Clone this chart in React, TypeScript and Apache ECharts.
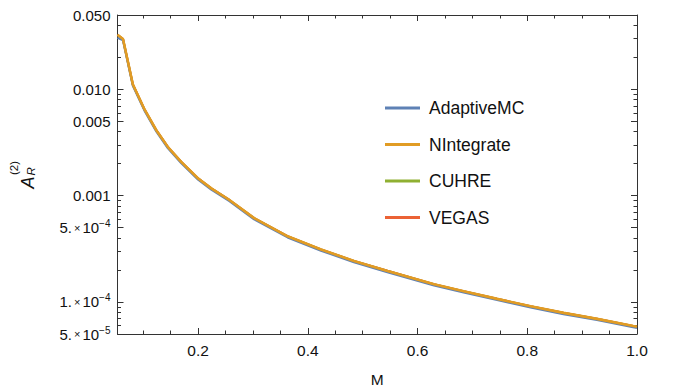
import React, { useEffect, useRef } from "react";
import * as echarts from "echarts";

const mValues = [0.053, 0.063, 0.081, 0.102, 0.124, 0.145, 0.169, 0.2, 0.224, 0.257, 0.302, 0.363, 0.424, 0.484, 0.545, 0.63, 0.684, 0.745, 0.806, 0.866, 0.927, 0.993, 1.0];
const nintegrate = [0.0326, 0.0297, 0.0111, 0.0065, 0.0041, 0.00286, 0.00208, 0.00145, 0.00117, 0.00091, 0.000615, 0.000415, 0.000312, 0.000243, 0.000196, 0.000147, 0.000126, 0.000107, 0.0000912, 0.000079, 0.0000694, 0.0000594, 0.0000585];
const adaptiveMC = [0.0305, 0.029, 0.0108, 0.00634, 0.004, 0.00279, 0.00203, 0.001414, 0.00114, 0.000887, 0.0006, 0.000405, 0.000304, 0.000237, 0.000191, 0.000143, 0.000123, 0.0001043, 0.0000889, 0.000077, 0.0000677, 0.0000579, 0.000057];
const cuhre = [0.0326, 0.0297, 0.0111, 0.0065, 0.0041, 0.00286, 0.00208, 0.00145, 0.00117, 0.00091, 0.000615, 0.000415, 0.000312, 0.000243, 0.000196, 0.000147, 0.000126, 0.000107, 0.0000912, 0.000079, 0.0000694, 0.0000594, 0.0000585];
const vegas = [0.0326, 0.0297, 0.0111, 0.0065, 0.0041, 0.00286, 0.00208, 0.00145, 0.00117, 0.00091, 0.000615, 0.000415, 0.000312, 0.000243, 0.000196, 0.000147, 0.000126, 0.000107, 0.0000912, 0.000079, 0.0000694, 0.0000594, 0.0000585];

const seriesNames = ["AdaptiveMC", "NIntegrate", "CUHRE", "VEGAS"];
const seriesColors = ["#5E81B5", "#E19C24", "#8FB032", "#EB6235"];

const xMajorTicks = [0.2, 0.4, 0.6, 0.8, 1.0];
const xMinorTicks = [0.1, 0.15, 0.25, 0.3, 0.35, 0.45, 0.5, 0.55, 0.65, 0.7, 0.75, 0.85, 0.9, 0.95];
const yMajorTicks = [5e-5, 1e-4, 5e-4, 1e-3, 5e-3, 1e-2, 5e-2];
const yTickLabels = ["5.{x|×}10{e|−5}", "1.{x|×}10{e|−4}", "5.{x|×}10{e|−4}", "0.001", "0.005", "0.010", "0.050"];
const yMinorTicks = [6e-5, 7e-5, 8e-5, 9e-5, 2e-4, 3e-4, 4e-4, 6e-4, 7e-4, 8e-4, 9e-4, 2e-3, 3e-3, 4e-3, 6e-3, 7e-3, 8e-3, 9e-3, 2e-2, 3e-2, 4e-2];

const FONT = "'Liberation Sans', Arial, sans-serif";
const AXIS_COLOR = "#333";
const X_MIN = 0.053;
const X_MAX = 1.0;
const Y_MIN = 5e-5;
const Y_MAX = 0.05;

function yLabel(v: number): string {
  for (let i = 0; i < yMajorTicks.length; i++) {
    if (Math.abs(Math.log10(v) - Math.log10(yMajorTicks[i])) < 0.01) return yTickLabels[i];
  }
  return "";
}

export default function App() {
  const ref = useRef<HTMLDivElement>(null);
  useEffect(() => {
    if (!ref.current) return;
    const chart = echarts.init(ref.current, undefined, { renderer: "svg" });
    const seriesData = [adaptiveMC, nintegrate, cuhre, vegas];
    const zs = [3, 4, 1, 2];
    const widths = [2.2, 2.6, 2.2, 2.2];

    const xAxisBase = (pos: string, ticks: number[], len: number, labels: boolean, line: boolean) => ({
      type: "value",
      position: pos,
      min: X_MIN,
      max: X_MAX,
      splitLine: { show: false },
      axisLine: { show: line, onZero: false, lineStyle: { color: AXIS_COLOR, width: 1 } },
      axisTick: { show: true, inside: true, length: len, customValues: ticks, lineStyle: { color: AXIS_COLOR, width: 1 } },
      axisLabel: labels
        ? { show: true, customValues: ticks, margin: 8, color: "#111", fontSize: 15.5, fontFamily: FONT, formatter: (v: number) => v.toFixed(1) }
        : { show: false },
    });
    const yAxisBase = (pos: string, ticks: number[], len: number, labels: boolean, line: boolean) => ({
      type: "log",
      position: pos,
      min: Y_MIN,
      max: Y_MAX,
      logBase: 10,
      splitLine: { show: false },
      axisLine: { show: line, onZero: false, lineStyle: { color: AXIS_COLOR, width: 1 } },
      axisTick: { show: true, inside: true, length: len, customValues: ticks, lineStyle: { color: AXIS_COLOR, width: 1 } },
      axisLabel: labels
        ? {
            show: true,
            customValues: ticks,
            margin: 7,
            color: "#111",
            fontSize: 15,
            fontFamily: FONT,
            formatter: (v: number) => yLabel(v),
            rich: {
              x: { fontSize: 11, fontFamily: FONT, color: "#111", padding: [0, 2, 0, 2] },
              e: { fontSize: 10, fontFamily: FONT, color: "#111", padding: [0, 0, 8, 0] },
            },
          }
        : { show: false },
    });

    const xMain: any = xAxisBase("bottom", xMajorTicks, 6, true, true);
    xMain.name = "M";
    xMain.nameLocation = "middle";
    xMain.nameGap = 37;
    xMain.nameTextStyle = { color: "#111", fontSize: 15.5, fontFamily: FONT };

    const yMain: any = yAxisBase("left", yMajorTicks, 6, true, true);
    yMain.name = "{pad|}{sup|(2)}\n{a|A}{sub|R}";
    yMain.nameLocation = "middle";
    yMain.nameRotate = 90;
    yMain.nameGap = 81;
    yMain.nameTextStyle = {
      color: "#111",
      fontFamily: FONT,
      rich: {
        pad: { width: 13, fontSize: 11, lineHeight: 9 },
        sup: { width: 15, align: "left", fontSize: 11.5, fontFamily: FONT, color: "#111", lineHeight: 9 },
        a: { width: 13, align: "left", fontSize: 18, fontStyle: "italic", fontFamily: FONT, color: "#111", lineHeight: 18 },
        sub: { width: 15, align: "left", fontSize: 11.5, fontStyle: "italic", fontFamily: FONT, color: "#111", lineHeight: 18, padding: [6, 0, 0, 0] },
      },
    };

    chart.setOption({
      animation: false,
      backgroundColor: "#fff",
      grid: { left: 116, right: 38, top: 15, bottom: 55, containLabel: false },
      legend: {
        show: true,
        orient: "vertical",
        left: 385,
        top: 99,
        padding: 0,
        itemWidth: 35,
        itemHeight: 3,
        itemGap: 18.5,
        icon: "rect",
        data: seriesNames,
        textStyle: { color: "#111", fontSize: 17.5, fontFamily: FONT, padding: [0, 0, 0, 4] },
      },
      xAxis: [
        xMain,
        xAxisBase("bottom", xMinorTicks, 3.5, false, false),
        xAxisBase("top", xMajorTicks, 6, false, true),
        xAxisBase("top", xMinorTicks, 3.5, false, false),
      ],
      yAxis: [
        yMain,
        yAxisBase("left", yMinorTicks, 3.5, false, false),
        yAxisBase("right", yMajorTicks, 6, false, true),
        yAxisBase("right", yMinorTicks, 3.5, false, false),
      ],
      series: seriesNames.map((name, i) => ({
        name,
        type: "line",
        xAxisIndex: 0,
        yAxisIndex: 0,
        showSymbol: false,
        symbol: "none",
        smooth: false,
        z: zs[i],
        color: seriesColors[i],
        lineStyle: { color: seriesColors[i], width: widths[i] },
        data: mValues.map((m, j) => [m, seriesData[i][j]]),
      })),
    });
    return () => chart.dispose();
  }, []);
  return <div ref={ref} style={{ position: "fixed", left: 0, top: 0, width: 675, height: 392 }} />;
}
